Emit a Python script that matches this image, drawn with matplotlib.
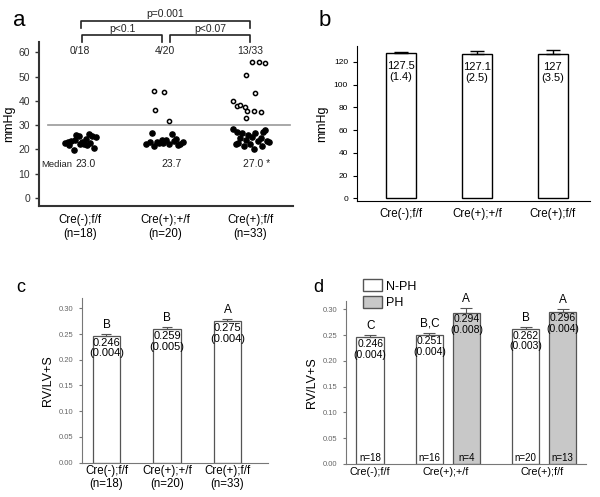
import matplotlib
matplotlib.use("Agg")
import matplotlib.pyplot as plt
from matplotlib.patches import Patch

plt.rcParams['font.family'] = ['Liberation Sans', 'DejaVu Sans']

groups = ['Cre(-);f/f', 'Cre(+);+/f', 'Cre(+);f/f']
group_n = [18, 20, 33]

# panel a: individual RVSP values (x jitter, mmHg)
a_fill_dx = [[-0.17, -0.13, -0.10, -0.06, -0.05, -0.01, 0.02, 0.05, 0.08,
              0.11, 0.14, 0.16, 0.19, 0.12, -0.07, 0.00, 0.07, -0.14],
             [-0.22, -0.18, -0.15, -0.13, -0.10, -0.07, -0.04, -0.02, 0.01,
              0.04, 0.08, 0.10, 0.13, 0.15, 0.18, 0.21],
             [-0.20, -0.16, -0.17, -0.12, -0.10, -0.07, -0.05, -0.03, 0.00, 0.02,
              0.04, 0.06, 0.09, 0.12, 0.14, 0.15, 0.17, 0.19, 0.22, -0.14]]
a_fill_y = [[22.8, 21.8, 23.6, 24.0, 25.8, 25.4, 23.2, 22.0, 21.6,
             26.2, 25.5, 20.6, 25.0, 22.8, 19.7, 22.3, 24.4, 23.0],
            [22.3, 23.0, 26.8, 21.5, 23.2, 22.5, 23.8, 22.8, 24.0,
             22.0, 26.5, 23.5, 24.3, 21.8, 22.2, 22.9],
            [28.3, 27.0, 22.0, 24.5, 26.6, 21.5, 23.8, 26.0, 22.0, 25.0,
             20.0, 26.6, 23.3, 24.8, 21.5, 27.0, 28.0, 23.5, 23.0, 22.5]]
a_open_dx = [[],
             [-0.13, -0.01, -0.12, 0.04],
             [-0.20, -0.16, -0.12, -0.06, -0.04, 0.04, 0.12, -0.05, 0.06,
              -0.05, 0.02, 0.10, 0.17]]
a_open_y = [[],
            [44.2, 43.6, 36.4, 31.8],
            [40.1, 38.0, 38.4, 37.6, 36.0, 35.8, 35.4, 32.9, 43.1,
             50.5, 56.2, 56.1, 55.5]]
a_ratio = ['0/18', '4/20', '13/33']
a_median = ['23.0', '23.7', '27.0 *']
a_threshold = 30

# panel b: systemic pressure
b_mean = [127.5, 127.1, 127]
b_sem = [1.4, 2.5, 3.5]
b_mean_txt = ['127.5', '127.1', '127']

# panel c: RV/LV+S
c_mean = [0.246, 0.259, 0.275]
c_sem = [0.004, 0.005, 0.004]
c_letter = ['B', 'B', 'A']

# panel d: split by PH status
d_nph_mean = [0.246, 0.251, 0.262]
d_nph_sem = [0.004, 0.004, 0.003]
d_nph_letter = ['C', 'B,C', 'B']
d_nph_n = [18, 16, 20]
d_ph_mean = [0.294, 0.296]
d_ph_sem = [0.008, 0.004]
d_ph_letter = ['A', 'A']
d_ph_n = [4, 13]

W, H = 600, 497
fig = plt.figure(figsize=(6, 4.97), dpi=100)


def rect(l, t, r, b):
    return [l / W, 1 - b / H, (r - l) / W, (b - t) / H]


# ---------------- a ----------------
ax = fig.add_axes(rect(39, 42, 293, 206))
for i in range(3):
    ax.scatter([i + d for d in a_fill_dx[i]], a_fill_y[i], s=14, c='black', zorder=3)
    if a_open_y[i]:
        ax.scatter([i + d for d in a_open_dx[i]], a_open_y[i], s=9, facecolors='white',
                   edgecolors='black', linewidths=1.1, zorder=3)
    ax.text(i, 60.5, a_ratio[i], ha='center', va='center', fontsize=7.5, color='#222')
    ax.text(i + 0.07, 13.8, a_median[i], ha='center', va='center', fontsize=7.5, color='#222')
ax.text(-0.45, 13.8, 'Median', ha='left', va='center', fontsize=6.8, color='#222')
ax.plot([-0.38, 2.46], [a_threshold, a_threshold], color='#999999', lw=1.2, zorder=2)
ax.set_xlim(-0.48, 2.5)
ax.set_ylim(-3.4, 64.3)
ax.set_yticks(range(0, 61, 10))
ax.set_xticks(range(3))
ax.set_xticklabels([f'{g}\n(n={n})' for g, n in zip(groups, group_n)], fontsize=8.3)
ax.tick_params(axis='x', length=0, pad=6)
ax.tick_params(axis='y', labelsize=7.5, length=3, width=1, color='#333', labelcolor='#333')
for s in ['top', 'right']:
    ax.spines[s].set_visible(False)
for s in ['left', 'bottom']:
    ax.spines[s].set_linewidth(1.5)
    ax.spines[s].set_color('#333')
ax.set_ylabel('mmHg', fontsize=9, labelpad=2)
# brackets
kw = dict(color='#222', lw=1.2, clip_on=False)
ax.plot([0.01, 0.01, 2.0, 2.0], [70.1, 73.1, 73.1, 70.1], **kw)
ax.plot([0.02, 0.02, 0.965, 0.965], [64.4, 67.3, 67.3, 64.4], **kw)
ax.plot([1.06, 1.06, 1.99, 1.99], [64.4, 67.3, 67.3, 64.4], **kw)
ax.text(1.0, 75.9, 'p=0.001', ha='center', va='center', fontsize=7.5, color='#222')
ax.text(0.5, 69.7, 'p<0.1', ha='center', va='center', fontsize=7.5, color='#222')
ax.text(1.53, 69.7, 'p<0.07', ha='center', va='center', fontsize=7.5, color='#222')
fig.text(19 / W, 1 - 20 / H, 'a', fontsize=16, ha='center', va='center')

# ---------------- b ----------------
ax = fig.add_axes(rect(357, 46, 590, 201))
x = range(3)
ax.bar(x, b_mean, width=0.39, color='white', edgecolor='black', lw=1)
ax.errorbar(x, b_mean, yerr=[[0] * 3, b_sem], fmt='none', ecolor='black', elinewidth=1,
            capsize=5, capthick=1)
for i in x:
    ax.text(i, b_mean[i] - 7, f'{b_mean_txt[i]}\n({b_sem[i]})', ha='center', va='top',
            fontsize=8, linespacing=1.1)
ax.set_xlim(-0.58, 2.49)
ax.set_ylim(-2.4, 134)
ax.set_yticks(range(0, 121, 20))
ax.set_xticks(x)
ax.set_xticklabels(groups, fontsize=8.3)
ax.tick_params(axis='x', length=0, pad=5)
ax.tick_params(axis='y', labelsize=6, length=3)
for s in ['top', 'right']:
    ax.spines[s].set_visible(False)
ax.set_ylabel('mmHg', fontsize=9, labelpad=4)
fig.text(325 / W, 1 - 20 / H, 'b', fontsize=16, ha='center', va='center')

# ---------------- c ----------------
ax = fig.add_axes(rect(81.7, 298, 268, 462.7))
ax.bar(x, c_mean, width=0.45, color='white', edgecolor='#555', lw=0.9)
ax.errorbar(x, c_mean, yerr=[[0] * 3, c_sem], fmt='none', ecolor='#555', elinewidth=0.8,
            capsize=3.5, capthick=0.8)
for i in x:
    ax.text(i, c_mean[i] - 0.003, f'{c_mean[i]:.3f}\n({c_sem[i]:.3f})', ha='center', va='top',
            fontsize=8, linespacing=1.1)
    ax.text(i, c_mean[i] + c_sem[i] + 0.018, c_letter[i], ha='center', va='center', fontsize=8.5)
ax.set_xlim(-0.41, 2.67)
ax.set_ylim(0, 0.32)
ax.set_yticks([0, 0.05, 0.10, 0.15, 0.20, 0.25, 0.30])
ax.yaxis.set_major_formatter(plt.FormatStrFormatter('%.2f'))
ax.set_xticks(x)
ax.set_xticklabels([f'{g}\n(n={n})' for g, n in zip(groups, group_n)], fontsize=8.3,
                   linespacing=1.05)
ax.tick_params(axis='x', length=0, pad=2)
ax.tick_params(axis='y', labelsize=5.5, length=2.5, color='#777', labelcolor='#666')
for s in ['top', 'right']:
    ax.spines[s].set_visible(False)
for s in ['left', 'bottom']:
    ax.spines[s].set_color('#777')
ax.set_ylabel('RV/LV+S', fontsize=9, labelpad=3)
fig.text(21 / W, 1 - 287 / H, 'c', fontsize=13, ha='center', va='center')

# ---------------- d ----------------
ax = fig.add_axes(rect(345.7, 300.7, 586, 464))
centers = [0, 2.1, 4.7]
bw = 0.74
nph_x = [centers[0], centers[1] - 0.5, centers[2] - 0.5]
ph_x = [centers[1] + 0.5, centers[2] + 0.5]
ax.bar(nph_x, d_nph_mean, width=bw, color='white', edgecolor='#555', lw=0.9)
ax.bar(ph_x, d_ph_mean, width=bw, color='#c8c8c8', edgecolor='#555', lw=0.9)
ax.errorbar(nph_x, d_nph_mean, yerr=[[0] * 3, d_nph_sem], fmt='none', ecolor='#555',
            elinewidth=0.8, capsize=4.5, capthick=0.8)
ax.errorbar(ph_x, d_ph_mean, yerr=[[0] * 2, d_ph_sem], fmt='none', ecolor='#555',
            elinewidth=0.8, capsize=4.5, capthick=0.8)
for xs, ms, es, ls, ns in [(nph_x, d_nph_mean, d_nph_sem, d_nph_letter, d_nph_n),
                           (ph_x, d_ph_mean, d_ph_sem, d_ph_letter, d_ph_n)]:
    for xi, m, e, l, n in zip(xs, ms, es, ls, ns):
        ax.text(xi, m - 0.003, f'{m:.3f}\n({e:.3f})', ha='center', va='top',
                fontsize=7.5, linespacing=1.1)
        ax.text(xi, m + e + 0.018, l, ha='center', va='center', fontsize=8.5)
        ax.text(xi, 0.012, f'n={n}', ha='center', va='center', fontsize=7)
ax.set_xlim(-0.66, 5.83)
ax.set_ylim(0, 0.317)
ax.set_yticks([0, 0.05, 0.10, 0.15, 0.20, 0.25, 0.30])
ax.yaxis.set_major_formatter(plt.FormatStrFormatter('%.2f'))
ax.set_xticks([centers[0], centers[1] - 0.05, centers[2] - 0.05])
ax.set_xticklabels(groups, fontsize=7.8)
ax.tick_params(axis='x', length=0, pad=2)
ax.tick_params(axis='y', labelsize=5.5, length=2.5, color='#777', labelcolor='#666')
for s in ['top', 'right']:
    ax.spines[s].set_visible(False)
for s in ['left', 'bottom']:
    ax.spines[s].set_color('#777')
ax.set_ylabel('RV/LV+S', fontsize=9, labelpad=3)
handles = [Patch(facecolor='white', edgecolor='#555', label='N-PH'),
           Patch(facecolor='#c8c8c8', edgecolor='#555', label='PH')]
fig.legend(handles=handles, loc='upper left', bbox_to_anchor=(357 / W, 1 - 273 / H),
           frameon=False, fontsize=9, handlelength=1.5, handleheight=1.1,
           labelspacing=0.25, handletextpad=0.35, borderpad=0)
fig.text(318 / W, 1 - 287 / H, 'd', fontsize=13, ha='center', va='center')

fig.savefig('out.png', dpi=100)
